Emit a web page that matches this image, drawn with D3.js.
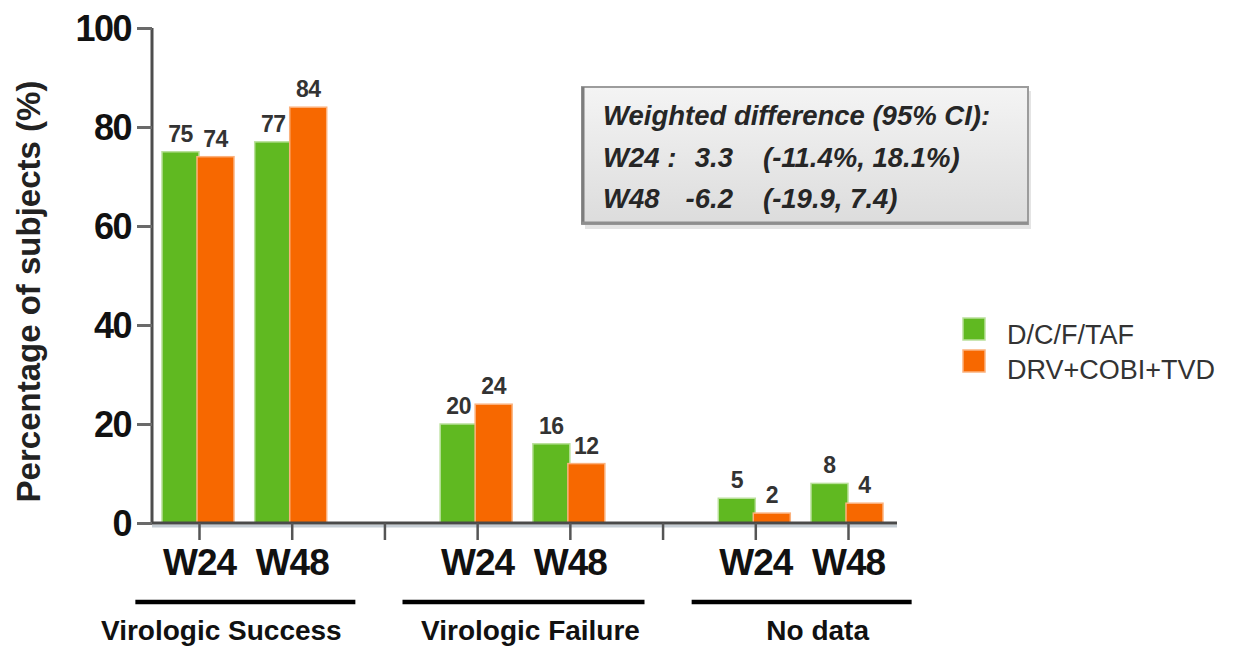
<!DOCTYPE html>
<html>
<head>
<meta charset="utf-8">
<script src="https://cdn.jsdelivr.net/npm/d3@7"></script>
<style>
  html, body { margin: 0; padding: 0; background: #fff; }
  svg { display: block; font-family: "Liberation Sans", Arial, sans-serif; }
</style>
</head>
<body>
<svg id="chart" width="1239" height="648"></svg>
<script>
// Outcome groups and visit weeks
const groups = ["Virologic Success", "Virologic Failure", "No data"];
const weeks = ["W24", "W48"];
// Percentage of subjects, ordered group by group, W24 then W48
const seriesNames = ["D/C/F/TAF", "DRV+COBI+TVD"];
const dcfTaf = [75, 77, 20, 16, 5, 8];
const drvCobiTvd = [74, 84, 24, 12, 2, 4];
const yTicks = [0, 20, 40, 60, 80, 100];
const noteTitle = "Weighted difference (95% CI):";
const noteWeeks = ["W24 :", "W48"];
const noteEstimates = ["3.3", "-6.2"];
const noteIntervals = ["(-11.4%, 18.1%)", "(-19.9, 7.4)"];

const colors = ["#60b921", "#f76800"];
const edgeColors = ["#b9e09a", "#fbb27e"];

const svg = d3.select("#chart");

// Slots along the x axis: two weeks per group with an empty slot between groups
const slots = [];
groups.forEach((g, gi) => {
  weeks.forEach(w => slots.push(g + "|" + w));
  if (gi < groups.length - 1) slots.push("gap" + gi);
});

const x = d3.scalePoint().domain(slots).range([199, 848]);
const y = d3.scaleLinear().domain([0, 100]).range([523, 28]);
const barW = 37;

// Rows used for bars
const rows = [];
groups.forEach((g, gi) => weeks.forEach((w, wi) => {
  const i = gi * weeks.length + wi;
  rows.push({ key: g + "|" + w, week: w, values: [dcfTaf[i], drvCobiTvd[i]] });
}));

// Y axis
const yAxis = d3.axisLeft(y).tickValues(yTicks).tickSize(15).tickPadding(6);
const gy = svg.append("g").attr("transform", "translate(152,0)").call(yAxis);
gy.select(".domain").attr("stroke", "#4d4d4d").attr("stroke-width", 3)
  .attr("d", `M0,${y(100)}V${y(0)}`);
gy.selectAll(".tick line").attr("stroke", "#6a6a6a").attr("stroke-width", 3);
gy.selectAll(".tick text")
  .attr("font-size", 36).attr("font-weight", "bold").attr("fill", "#111")
  .attr("letter-spacing", -1.5).attr("dy", "0.36em");

// Y axis title
svg.append("text")
  .attr("transform", `translate(40,${(y(0) + y(100)) / 2 + 16}) rotate(-90)`)
  .attr("text-anchor", "middle")
  .attr("font-size", 33).attr("font-weight", "bold").attr("fill", "#222")
  .text("Percentage of subjects (%)");

// Bars: first series left of the tick, second series right of it
const barG = svg.append("g");
rows.forEach(r => {
  r.values.forEach((v, si) => {
    const x0 = si === 0 ? x(r.key) - barW : x(r.key) - 2;
    barG.append("rect")
      .attr("x", x0).attr("y", y(v))
      .attr("width", barW).attr("height", y(0) - y(v))
      .attr("fill", colors[si])
      .attr("stroke", edgeColors[si]).attr("stroke-width", 1.5);
    barG.append("text")
      .attr("x", x0 + barW / 2).attr("y", y(v) - 10)
      .attr("text-anchor", "middle")
      .attr("font-size", 23).attr("font-weight", "bold").attr("fill", "#333")
      .attr("letter-spacing", -0.5)
      .text(v);
  });
});

// X axis baseline with a faint shade under it
svg.append("line").attr("x1", 152).attr("x2", 897).attr("y1", y(0) + 3).attr("y2", y(0) + 3)
  .attr("stroke", "#c5cdd4").attr("stroke-width", 3);
const xAxis = d3.axisBottom(x).tickSize(17).tickFormat(d => d.includes("|") ? d.split("|")[1] : "");
const gx = svg.append("g").attr("transform", `translate(0,${y(0)})`).call(xAxis);
gx.select(".domain").attr("stroke", "#4a4a4a").attr("stroke-width", 3)
  .attr("d", "M152,0H897");
gx.selectAll(".tick line").attr("stroke", "#555").attr("stroke-width", 2.5);
gx.selectAll(".tick text")
  .attr("font-size", 37).attr("font-weight", "bold").attr("fill", "#111")
  .attr("y", 52).attr("dy", 0).attr("letter-spacing", -1);

// Group brackets and names
groups.forEach((g, gi) => {
  const cx = (x(g + "|" + weeks[0]) + x(g + "|" + weeks[1])) / 2;
  const half = gi === 1 ? 121 : 110;
  svg.append("line")
    .attr("x1", cx - half).attr("x2", cx + half)
    .attr("y1", 602).attr("y2", 602)
    .attr("stroke", "#000").attr("stroke-width", 4.5);
  svg.append("text")
    .attr("x", cx - (gi === 0 ? 24 : gi === 1 ? -7 : -16)).attr("y", 640)
    .attr("text-anchor", "middle")
    .attr("font-size", 28).attr("font-weight", "bold").attr("fill", "#111")
    .text(g);
});

// Annotation box with the weighted differences
const defs = svg.append("defs");
const grad = defs.append("linearGradient").attr("id", "boxFill")
  .attr("x1", 0).attr("y1", 0).attr("x2", 0).attr("y2", 1);
grad.append("stop").attr("offset", "0%").attr("stop-color", "#f4f4f4");
grad.append("stop").attr("offset", "100%").attr("stop-color", "#dcdcdc");

const box = svg.append("g").attr("transform", "translate(582,87)");
box.append("rect").attr("x", 3).attr("y", 4).attr("width", 446).attr("height", 138)
  .attr("fill", "#e4e4e4");
box.append("rect").attr("width", 446).attr("height", 137)
  .attr("fill", "url(#boxFill)").attr("stroke", "#9c9c9c").attr("stroke-width", 2);
box.append("line").attr("x1", 1).attr("x2", 1).attr("y1", 0).attr("y2", 137)
  .attr("stroke", "#7d7d7d").attr("stroke-width", 3);
box.append("line").attr("x1", 0).attr("x2", 446).attr("y1", 136).attr("y2", 136)
  .attr("stroke", "#8e8e8e").attr("stroke-width", 3);

const noteStyle = s => s.attr("font-size", 27.5).attr("font-weight", "bold")
  .attr("font-style", "italic").attr("fill", "#262626");
box.append("text").attr("x", 21).attr("y", 38).call(noteStyle).text(noteTitle);
noteWeeks.forEach((w, i) => {
  const yy = 80 + i * 41;
  box.append("text").attr("x", 21).attr("y", yy).call(noteStyle).text(w);
  box.append("text").attr("x", 151).attr("y", yy).attr("text-anchor", "end")
    .call(noteStyle).text(noteEstimates[i]);
  box.append("text").attr("x", 181).attr("y", yy).call(noteStyle).text(noteIntervals[i]);
});

// Legend
const legend = svg.append("g").attr("transform", "translate(963,318)");
seriesNames.forEach((n, i) => {
  legend.append("rect").attr("x", 0).attr("y", i * 32).attr("width", 22).attr("height", 22)
    .attr("fill", colors[i]).attr("stroke", edgeColors[i]).attr("stroke-width", 1.5);
  legend.append("text").attr("x", 44).attr("y", 26 + i * 35)
    .attr("font-size", 27).attr("fill", "#333").text(n);
});
</script>
</body>
</html>
